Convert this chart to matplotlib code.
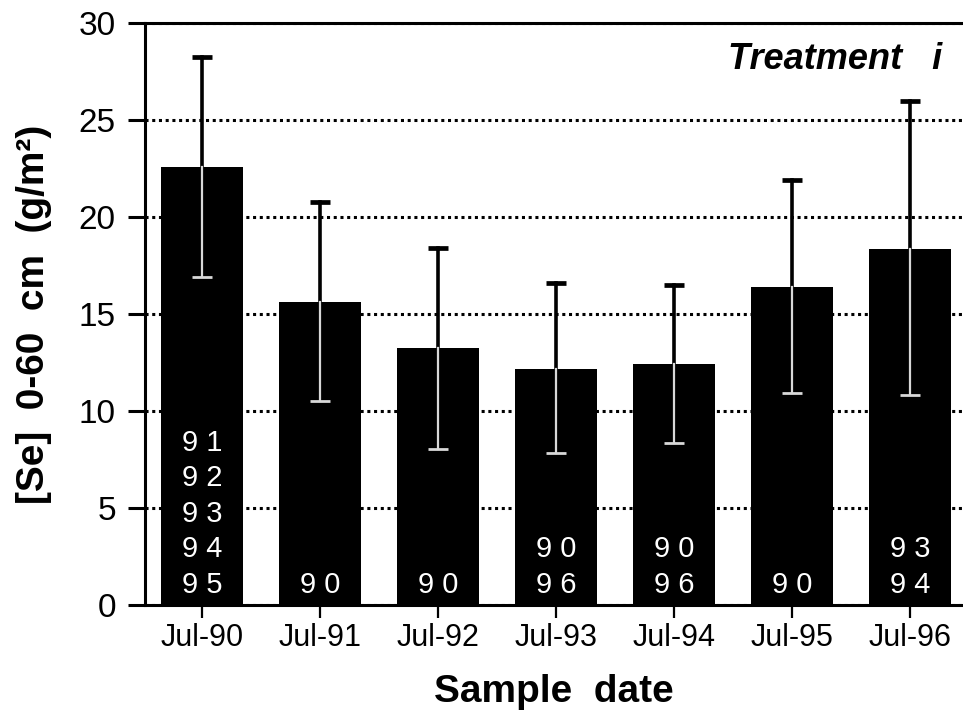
import matplotlib.pyplot as plt

plt.rcParams['font.family'] = ['Liberation Sans', 'DejaVu Sans']

dates = ['Jul-90', 'Jul-91', 'Jul-92', 'Jul-93', 'Jul-94', 'Jul-95', 'Jul-96']
se_mean = [22.6, 15.6, 13.25, 12.15, 12.4, 16.4, 18.35]
err_low = [5.7, 5.1, 5.2, 4.3, 4.05, 5.5, 7.55]
err_high = [5.65, 5.15, 5.15, 4.45, 4.1, 5.5, 7.65]
# years significantly different from each sample date (printed inside bars)
sig_years = [['91', '92', '93', '94', '95'], ['90'], ['90'], ['90', '96'],
             ['90', '96'], ['90'], ['93', '94']]

fig = plt.figure(figsize=(9.63, 7.19), dpi=100)
ax = fig.add_axes([0.1506, 0.1586, 0.8494, 0.8095])

x = list(range(len(dates)))

ax.yaxis.grid(True, linestyle=(0, (1, 1.2)), color='black', linewidth=2.2)
ax.set_axisbelow(True)

ax.bar(x, se_mean, width=0.695, color='black', zorder=2)

# error bar: black above the bar top, light inside the bar
for i in x:
    top = se_mean[i] + err_high[i]
    bot = se_mean[i] - err_low[i]
    ax.plot([i, i], [se_mean[i], top], color='black', linewidth=2.6, zorder=3)
    ax.plot([i - 0.085, i + 0.085], [top, top], color='black', linewidth=3.4,
            solid_capstyle='butt', zorder=3)
    ax.plot([i, i], [bot, se_mean[i]], color='#d8d8d8', linewidth=1.6, zorder=3)
    ax.plot([i - 0.085, i + 0.085], [bot, bot], color='#d8d8d8', linewidth=2.0,
            solid_capstyle='butt', zorder=3)

# significance labels stacked from bottom of each bar
for i, labels in enumerate(sig_years):
    n = len(labels)
    for k, lab in enumerate(labels):
        yy = 1.05 + (n - 1 - k) * 1.83
        ax.text(i, yy, ' '.join(lab), color='white', fontsize=21,
                fontweight='medium', ha='center', va='center', zorder=4)

ax.text(0.975, 0.937, 'Treatment   i', transform=ax.transAxes, fontsize=26,
        fontweight='bold', fontstyle='italic', ha='right', va='center')

ax.set_xlim(-0.483, 6.449)
ax.set_ylim(0, 30)
ax.set_yticks([0, 5, 10, 15, 20, 25, 30])
ax.set_xticks(x)
ax.set_xticklabels(dates)

ax.spines['right'].set_visible(False)
for s in ['left', 'bottom', 'top']:
    ax.spines[s].set_linewidth(2.2)
ax.tick_params(axis='y', direction='out', length=12, width=2.2, labelsize=24, pad=9)
ax.tick_params(axis='x', direction='out', length=9, width=1.6, labelsize=22, pad=4)

ax.set_xlabel('Sample  date', fontsize=28, fontweight='bold', labelpad=15)
ax.set_ylabel('[Se]  0-60  cm  (g/m²)', fontsize=28, fontweight='bold', labelpad=19)

fig.savefig('out.png', dpi=100)
